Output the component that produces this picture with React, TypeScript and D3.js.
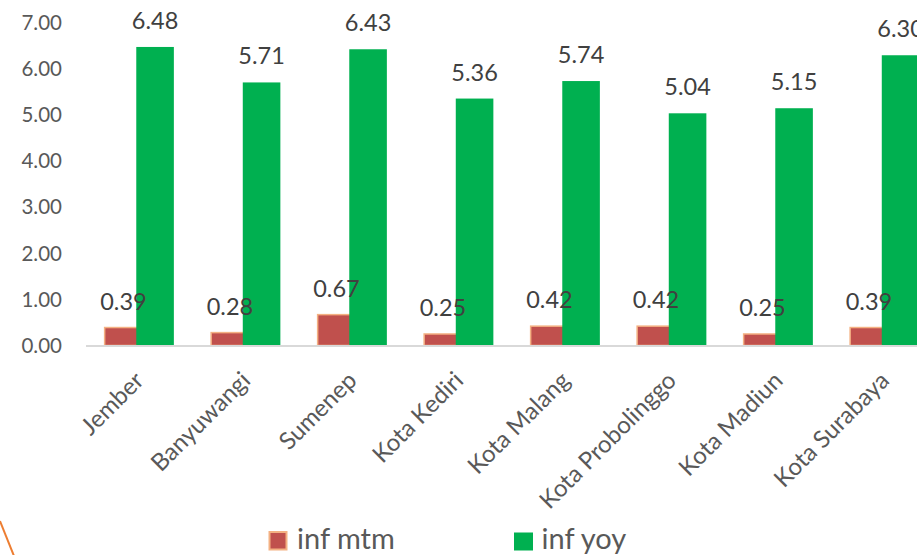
import React from "react";
import * as d3 from "d3";

const categories = [
  "Jember",
  "Banyuwangi",
  "Sumenep",
  "Kota Kediri",
  "Kota Malang",
  "Kota Probolinggo",
  "Kota Madiun",
  "Kota Surabaya",
];
const infMtm = [0.39, 0.28, 0.67, 0.25, 0.42, 0.42, 0.25, 0.39];
const infYoy = [6.48, 5.71, 6.43, 5.36, 5.74, 5.04, 5.15, 6.3];
const yTicks = [0, 1, 2, 3, 4, 5, 6, 7];
const seriesNames = ["inf mtm", "inf yoy"];

const W = 917;
const H = 555;
const FONT = "Lato, 'Noto Sans', sans-serif";

export default function App() {
  const x = d3
    .scaleBand<string>()
    .domain(categories)
    .range([86, 938])
    .paddingInner(0.35)
    .paddingOuter(0.175);
  const y = d3.scaleLinear().domain([0, 7]).range([345.5, 23]);
  const bw = x.bandwidth();
  const barW = bw * 0.543;

  return (
    <svg
      width={W}
      height={H}
      style={{ position: "absolute", left: 0, top: 0, display: "block", background: "#fff" }}
      fontFamily={FONT}
    >
      {/* y tick labels */}
      {yTicks.map((t) => (
        <text
          key={t}
          x={62}
          y={y(t)}
          dy="0.35em"
          textAnchor="end"
          fontSize={20.5}
          fill="#595959"
        >
          {t.toFixed(2)}
        </text>
      ))}
      {/* bars */}
      {categories.map((c, i) => {
        const x0 = x(c)!;
        const xr = x0;
        const xg = x0 + bw - barW;
        return (
          <g key={c}>
            <rect
              x={xr}
              y={y(infMtm[i])}
              width={barW}
              height={y(0) - y(infMtm[i])}
              fill="#C0504D"
              stroke="#F4B183"
              strokeWidth={1.5}
            />
            <rect
              x={xg}
              y={y(infYoy[i])}
              width={barW}
              height={y(0) - y(infYoy[i])}
              fill="#00B050"
            />
          </g>
        );
      })}
      {/* axis line */}
      <line x1={86} x2={W} y1={y(0) + 0.5} y2={y(0) + 0.5} stroke="#D9D9D9" strokeWidth={1.8} />
      {/* data labels */}
      {categories.map((c, i) => {
        const x0 = x(c)!;
        const xg = x0 + bw - barW;
        return (
          <g key={"l" + c} fontSize={23.5} fill="#404040" textAnchor="middle">
            <text x={x0 + barW / 2} y={y(infMtm[i]) - 18}>
              {infMtm[i].toFixed(2)}
            </text>
            <text x={xg + barW / 2} y={y(infYoy[i]) - 18}>
              {infYoy[i].toFixed(2)}
            </text>
          </g>
        );
      })}
      {/* x labels */}
      {categories.map((c) => {
        const cx = x(c)! + bw / 2;
        const px = cx + 6;
        const py = 382;
        return (
          <text
            key={"x" + c}
            x={px}
            y={py}
            transform={`rotate(-45, ${px}, ${py})`}
            textAnchor="end"
            fontSize={24}
            fill="#595959"
          >
            {c}
          </text>
        );
      })}
      {/* legend */}
      <rect x={269.5} y={532} width={17} height={17.5} fill="#C0504D" stroke="#F4B183" strokeWidth={2} />
      <text x={297} y={549} fontSize={29} fill="#595959">
        {seriesNames[0]}
      </text>
      <rect x={514} y={532.5} width={19} height={18} fill="#00B050" />
      <text x={541.5} y={549} fontSize={29} fill="#595959">
        {seriesNames[1]}
      </text>
      {/* decorative orange line */}
      <line x1={0} y1={521} x2={14} y2={556} stroke="#ED7D31" strokeWidth={2} />
    </svg>
  );
}
